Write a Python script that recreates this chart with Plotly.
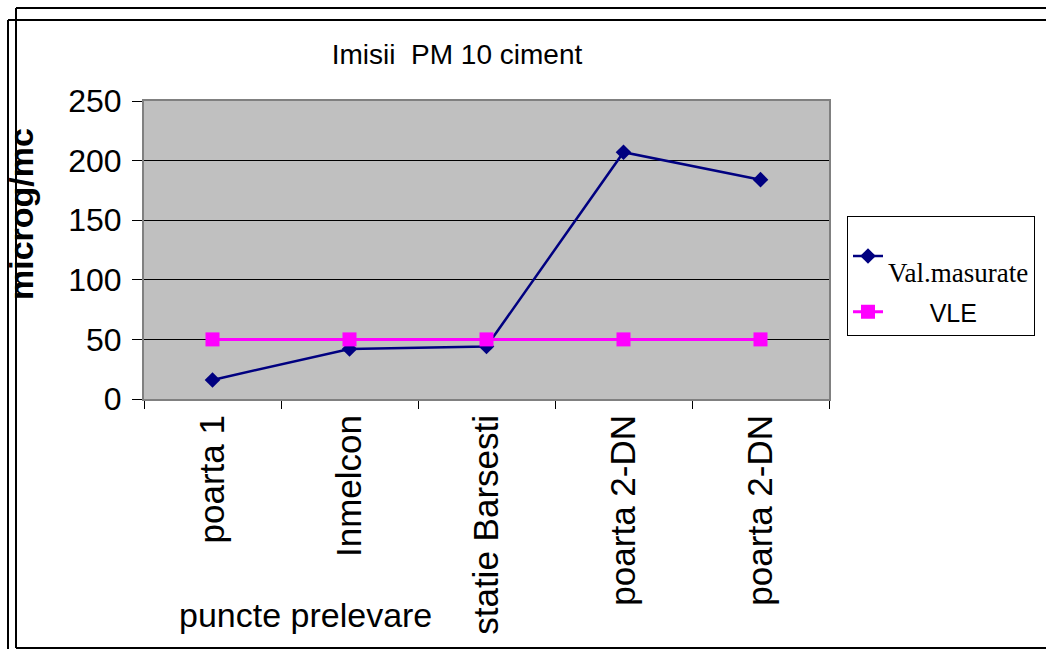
import plotly.graph_objects as go

categories = ["poarta 1", "Inmelcon", "statie Barsesti", "poarta 2-DN", "poarta 2-DN"]
val_masurate = [16, 42, 44, 207, 184]
vle = [50, 50, 50, 50, 50]
y_ticks = [0, 50, 100, 150, 200, 250]

W, H = 1046, 649
L, R, T, B = 144, 829, 101, 399  # plot area pixels


def px_x(x):
    return (x - L) / (R - L)


def px_y(y):
    return (B - y) / (B - T)


xpos = list(range(len(categories)))

fig = go.Figure()
fig.add_trace(go.Scatter(
    x=xpos, y=val_masurate, mode="lines+markers",
    name="<br><span style='font-family:Liberation Serif;font-size:27px'>Val.masurate</span>",
    line=dict(color="#000080", width=2.5),
    marker=dict(symbol="diamond", size=12, color="#000080"),
    legendgroup="a",
))
fig.add_trace(go.Scatter(
    x=xpos, y=vle, mode="lines+markers", name="      VLE",
    line=dict(color="#FF00FF", width=3),
    marker=dict(symbol="square", size=14, color="#FF00FF"),
    legendgroup="b",
))

font = "Liberation Sans, Arial, sans-serif"

fig.update_layout(
    width=W, height=H,
    margin=dict(l=L, r=W - R, t=T, b=H - B, autoexpand=False),
    paper_bgcolor="white",
    plot_bgcolor="#C0C0C0",
    font=dict(family=font, color="black"),
    title=dict(text="Imisii  PM 10 ciment", font=dict(size=28, family=font, color="black"),
               xref="container", yref="container", x=457 / W, y=1 - 54 / H,
               xanchor="center", yanchor="middle"),
    showlegend=True,
    legend=dict(x=px_x(847), y=px_y(216), xanchor="left", yanchor="top",
                bordercolor="black", borderwidth=1, bgcolor="white",
                font=dict(size=25, family=font, color="black"),
                tracegroupgap=4),
    xaxis=dict(
        automargin=False,
        range=[-0.5, len(categories) - 0.5],
        tickmode="array", tickvals=xpos, ticktext=categories,
        tickangle=-90, tickfont=dict(size=35, family=font, color="black"),
        ticks="", showgrid=False, zeroline=False,
        showline=True, linecolor="#808080", linewidth=2, mirror=True,
        minor=dict(ticks="outside", ticklen=8, tickcolor="black", tickwidth=1,
                   tick0=-0.5, dtick=1, showgrid=False),
    ),
    yaxis=dict(
        automargin=False,
        range=[0, 250], tickmode="array", tickvals=y_ticks,
        tickfont=dict(size=32, family=font, color="black"),
        ticks="outside", ticklen=10, tickcolor="black", tickwidth=1,
        ticklabelstandoff=4,
        showgrid=True, gridcolor="black", gridwidth=1, zeroline=False,
        showline=True, linecolor="#808080", linewidth=2, mirror=True,
    ),
    annotations=[
        dict(text="<b>microg/mc</b>", textangle=-90, xref="paper", yref="paper",
             x=px_x(21), y=px_y(214), xanchor="center", yanchor="middle",
             showarrow=False, font=dict(size=34, family=font, color="black")),
        dict(text="puncte prelevare", xref="paper", yref="paper",
             x=px_x(305), y=px_y(615), xanchor="center", yanchor="middle",
             showarrow=False, font=dict(size=34, family=font, color="black")),
    ],
    shapes=[
        # outer double frame
        dict(type="line", xref="paper", yref="paper", x0=px_x(16), x1=px_x(1060), y0=px_y(8), y1=px_y(8),
             line=dict(color="black", width=2)),
        dict(type="line", xref="paper", yref="paper", x0=px_x(16), x1=px_x(16), y0=px_y(8), y1=px_y(648),
             line=dict(color="black", width=2)),
        dict(type="line", xref="paper", yref="paper", x0=px_x(16), x1=px_x(1060), y0=px_y(648), y1=px_y(648),
             line=dict(color="black", width=2)),
        dict(type="line", xref="paper", yref="paper", x0=px_x(8), x1=px_x(1060), y0=px_y(20), y1=px_y(20),
             line=dict(color="black", width=2)),
        dict(type="line", xref="paper", yref="paper", x0=px_x(8), x1=px_x(8), y0=px_y(20), y1=px_y(660),
             line=dict(color="black", width=2)),
    ],
)

fig.write_html("out.html")
